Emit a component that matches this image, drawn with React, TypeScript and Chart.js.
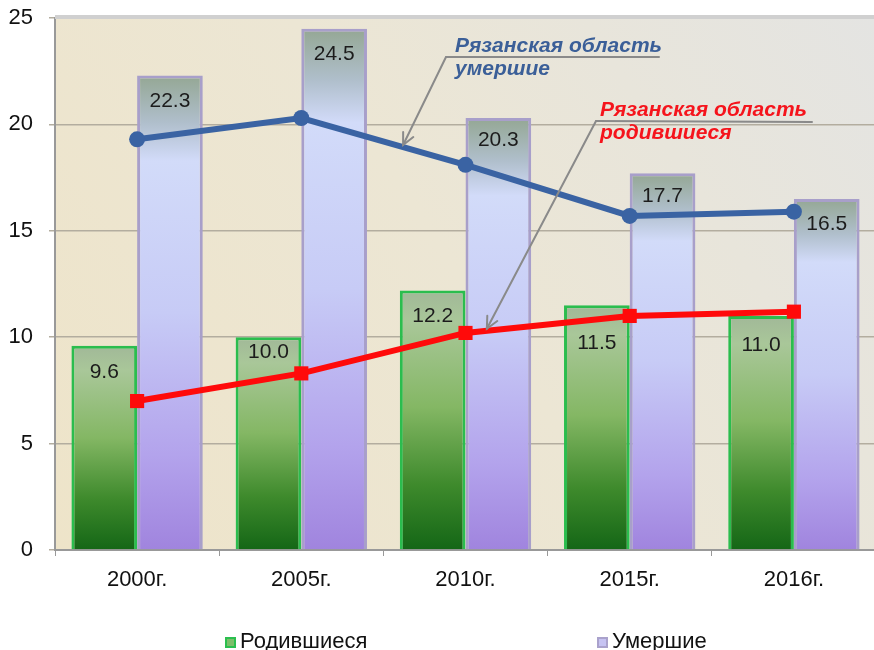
import React, { useEffect, useRef } from 'react';
import { Chart, registerables } from 'chart.js';

Chart.register(...registerables);

const categories = ['2000г.', '2005г.', '2010г.', '2015г.', '2016г.'];
const bornBars = [9.6, 10.0, 12.2, 11.5, 11.0];
const diedBars = [22.3, 24.5, 20.3, 17.7, 16.5];
const ryazanDied = [19.3, 20.3, 18.1, 15.7, 15.9];
const ryazanBorn = [7.0, 8.3, 10.2, 11.0, 11.2];
const yMin = 0;
const yMax = 25;
const yStep = 5;
const legendLabels = ['Родившиеся', 'Умершие'];
const noteDied = ['Рязанская область', 'умершие'];
const noteBorn = ['Рязанская область', 'родившиеся'];

const FONT = "'Liberation Sans', Arial, sans-serif";

function greenGradient(ctx: CanvasRenderingContext2D, top: number, bottom: number) {
  const g = ctx.createLinearGradient(0, top, 0, bottom);
  g.addColorStop(0, '#a1b898');
  g.addColorStop(0.12, '#a9c799');
  g.addColorStop(0.45, '#84b764');
  g.addColorStop(0.75, '#3e8a2c');
  g.addColorStop(1, '#146616');
  return g;
}

function purpleGradient(ctx: CanvasRenderingContext2D, top: number, bottom: number) {
  const g = ctx.createLinearGradient(0, top, 0, bottom);
  g.addColorStop(0, '#94a794');
  g.addColorStop(0.1, '#b0bfcc');
  g.addColorStop(0.18, '#d2dbf9');
  g.addColorStop(0.5, '#c7cbf6');
  g.addColorStop(0.8, '#b3a3ec');
  g.addColorStop(1, '#a084de');
  return g;
}

const bgPlugin = {
  id: 'bgPlugin',
  beforeDraw(chart: any) {
    const { ctx, chartArea: a } = chart;
    if (!a) return;
    ctx.save();
    const g = ctx.createLinearGradient(a.left, a.bottom, a.right, a.top);
    g.addColorStop(0, '#eee4c9');
    g.addColorStop(0.5, '#ece6d4');
    g.addColorStop(1, '#e4e4e2');
    ctx.fillStyle = g;
    ctx.fillRect(a.left, a.top, a.right - a.left, a.bottom - a.top);
    ctx.restore();
  },
  beforeDatasetsDraw(chart: any) {
    const { ctx, chartArea: a } = chart;
    ctx.save();
    ctx.strokeStyle = '#d0d0d0';
    ctx.lineWidth = 4;
    ctx.beginPath();
    ctx.moveTo(a.left, a.top - 1);
    ctx.lineTo(a.right, a.top - 1);
    ctx.stroke();
    ctx.restore();
  },
};

const labelOffsets: Record<number, number[]> = {
  0: [26, 15, 26, 38, 29],
  1: [26, 26, 22, 23, 25],
};

const valueLabelPlugin = {
  id: 'valueLabelPlugin',
  afterDatasetsDraw(chart: any) {
    const { ctx } = chart;
    ctx.save();
    ctx.font = `21px ${FONT}`;
    ctx.fillStyle = '#1c1c1c';
    ctx.textAlign = 'center';
    ctx.textBaseline = 'middle';
    [0, 1].forEach((di) => {
      const meta = chart.getDatasetMeta(di);
      const ds = chart.data.datasets[di];
      meta.data.forEach((el: any, i: number) => {
        const v = ds.data[i] as number;
        ctx.fillText(v.toFixed(1), el.x, el.y + labelOffsets[di][i]);
      });
    });
    ctx.restore();
  },
};

function drawArrow(ctx: CanvasRenderingContext2D, fx: number, fy: number, tx: number, ty: number) {
  ctx.beginPath();
  ctx.moveTo(fx, fy);
  ctx.lineTo(tx, ty);
  ctx.stroke();
  const ang = Math.atan2(ty - fy, tx - fx);
  const len = 13;
  const spread = 0.45;
  ctx.beginPath();
  ctx.moveTo(tx - len * Math.cos(ang - spread), ty - len * Math.sin(ang - spread));
  ctx.lineTo(tx, ty);
  ctx.lineTo(tx - len * Math.cos(ang + spread), ty - len * Math.sin(ang + spread));
  ctx.stroke();
}

const notePlugin = {
  id: 'notePlugin',
  afterDraw(chart: any) {
    const { ctx } = chart;
    const bluePts = chart.getDatasetMeta(3).data;
    const redPts = chart.getDatasetMeta(2).data;
    const lerp = (a: any, b: any, t: number) => ({ x: a.x + (b.x - a.x) * t, y: a.y + (b.y - a.y) * t - 2 });
    const blueTip = lerp(bluePts[1], bluePts[2], 0.62);
    const redTip = lerp(redPts[2], redPts[3], 0.13);

    ctx.save();
    ctx.strokeStyle = '#8a8a8a';
    ctx.lineWidth = 2;
    ctx.lineCap = 'round';
    ctx.beginPath();
    ctx.moveTo(446, 57);
    ctx.lineTo(659, 57);
    ctx.stroke();
    drawArrow(ctx, 446, 57, blueTip.x, blueTip.y);
    ctx.beginPath();
    ctx.moveTo(596, 121);
    ctx.lineTo(812, 122);
    ctx.stroke();
    drawArrow(ctx, 596, 121, redTip.x, redTip.y);

    ctx.font = `italic bold 21px ${FONT}`;
    ctx.textAlign = 'left';
    ctx.textBaseline = 'alphabetic';
    ctx.fillStyle = '#3b5f98';
    ctx.fillText(noteDied[0], 455, 52);
    ctx.fillText(noteDied[1], 455, 75);
    ctx.fillStyle = '#f5141c';
    ctx.fillText(noteBorn[0], 600, 116);
    ctx.fillText(noteBorn[1], 600, 139);
    ctx.restore();
  },
};

const legendPlugin = {
  id: 'legendPlugin',
  afterDraw(chart: any) {
    const { ctx } = chart;
    const items = [
      { x: 225, label: legendLabels[0], fill: '#7cbf6a', border: '#2bbf4f' },
      { x: 597, label: legendLabels[1], fill: '#c6c3f2', border: '#aaa2cc' },
    ];
    ctx.save();
    ctx.font = `22px ${FONT}`;
    ctx.textBaseline = 'alphabetic';
    ctx.textAlign = 'left';
    items.forEach((it) => {
      ctx.fillStyle = it.fill;
      ctx.fillRect(it.x, 637, 11, 11);
      ctx.strokeStyle = it.border;
      ctx.lineWidth = 2;
      ctx.strokeRect(it.x + 1, 638, 9, 9);
      ctx.fillStyle = '#111';
      ctx.fillText(it.label, it.x + 15, 648);
    });
    ctx.restore();
  },
};

export default function App() {
  const ref = useRef<HTMLCanvasElement | null>(null);

  useEffect(() => {
    if (!ref.current) return;
    const barBg = (kind: 'green' | 'purple') => (c: any) => {
      const chart = c.chart;
      const { chartArea, scales } = chart;
      if (!chartArea || c.type !== 'data') return kind === 'green' ? '#7cbf6a' : '#c6c3f2';
      const top = scales.y.getPixelForValue(c.raw);
      const bottom = scales.y.getPixelForValue(0);
      return kind === 'green'
        ? greenGradient(chart.ctx, top, bottom)
        : purpleGradient(chart.ctx, top, bottom);
    };

    const chart = new Chart(ref.current, {
      type: 'bar',
      data: {
        labels: categories,
        datasets: [
          {
            type: 'bar',
            label: legendLabels[0],
            data: bornBars,
            backgroundColor: barBg('green'),
            borderColor: '#2bbd4e',
            borderWidth: 3,
            order: 2,
          },
          {
            type: 'bar',
            label: legendLabels[1],
            data: diedBars,
            backgroundColor: barBg('purple'),
            borderColor: '#a89fca',
            borderWidth: 3,
            order: 2,
          },
          {
            type: 'line',
            label: noteBorn.join(' '),
            data: ryazanBorn,
            borderColor: '#ff0a0a',
            backgroundColor: '#ff0a0a',
            borderWidth: 6,
            pointStyle: 'rect',
            pointRadius: 10,
            pointBorderWidth: 0,
            order: 1,
          },
          {
            type: 'line',
            label: noteDied.join(' '),
            data: ryazanDied,
            borderColor: '#3a63a3',
            backgroundColor: '#3a63a3',
            borderWidth: 6,
            pointStyle: 'circle',
            pointRadius: 8,
            pointBorderWidth: 0,
            order: 0,
          },
        ] as any,
      },
      options: {
        responsive: false,
        animation: false,
        layout: { padding: { top: 18, right: 4, left: 0, bottom: 0 } },
        datasets: {
          bar: { categoryPercentage: 0.8, barPercentage: 1.0 },
        } as any,
        plugins: {
          legend: { display: false },
          tooltip: { enabled: false },
        },
        scales: {
          x: {
            offset: true,
            grid: { drawOnChartArea: false, drawTicks: true, tickLength: 6, color: '#999999', offset: true },
            border: { color: '#999999', width: 2 },
            ticks: { font: { size: 22, family: FONT }, color: '#111111', padding: 11 },
            afterFit: (s: any) => {
              s.height = 100;
              s.paddingLeft = 0;
              s.paddingRight = 0;
            },
          },
          y: {
            min: yMin,
            max: yMax,
            ticks: { stepSize: yStep, font: { size: 22, family: FONT }, color: '#111111', padding: 16 },
            grid: { color: '#b3ad9f', lineWidth: 1.5, tickLength: 6, drawTicks: true },
            border: { color: '#999999', width: 2 },
            afterFit: (s: any) => {
              s.width = 55;
              s.paddingTop = 0;
              s.paddingBottom = 0;
            },
          },
        },
      },
      plugins: [bgPlugin, valueLabelPlugin, notePlugin, legendPlugin],
    });
    return () => chart.destroy();
  }, []);

  return (
    <div style={{ position: 'absolute', left: 0, top: 0, width: 874, height: 650, overflow: 'hidden', background: '#ffffff' }}>
      <canvas ref={ref} width={886} height={650} style={{ display: 'block' }} />
    </div>
  );
}
